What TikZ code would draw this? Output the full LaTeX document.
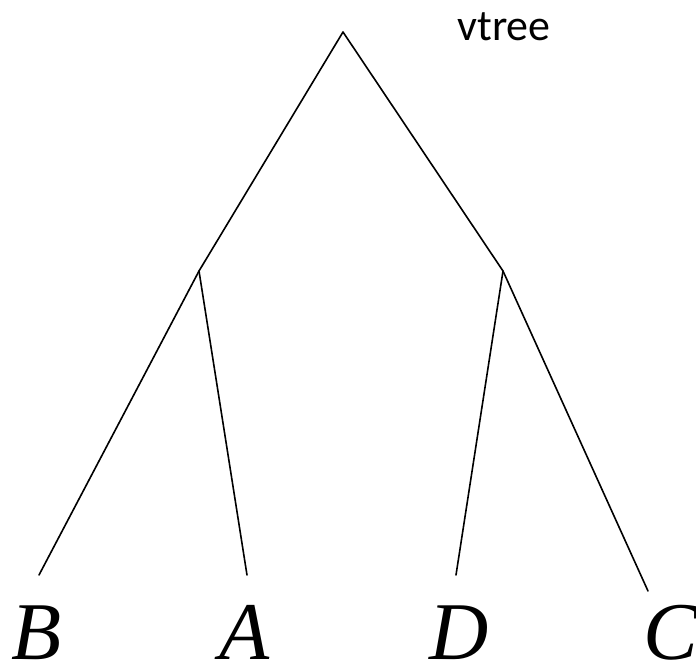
\documentclass[tikz,border=0pt]{standalone}
\usepackage{fontspec}
\setmainfont{Liberation Serif}
\newfontfamily\calib{Carlito}
\begin{document}
\begin{tikzpicture}[x=1pt,y=-1pt,
  edge/.style={line width=1.6pt,line cap=round,line join=round},
  leaf/.style={font=\fontsize{82}{82}\selectfont\itshape,inner sep=0pt,anchor=base},
  lbl/.style={font=\calib\fontsize{44}{44}\selectfont,inner sep=0pt,anchor=base west}]
\useasboundingbox (0,0) rectangle (696,662);
\coordinate (r) at (343,32);
\coordinate (l) at (199,271);
\coordinate (m) at (503,271);
\coordinate (b) at (39,575);
\coordinate (a) at (247,575);
\coordinate (d) at (456,575);
\coordinate (c) at (648,591);
\draw[edge] (b) -- (l) -- (r) -- (m) -- (c);
\draw[edge] (l) -- (a);
\draw[edge] (m) -- (d);
\node[leaf] (tb) at (37,659) {B};
\node[leaf] (ta) at (245,659) {A};
\node[leaf] (td) at (459,659) {D};
\node[leaf] (tc) at (671,659) {C};
\node[lbl] (vt) at (457,40) {vtree};
\end{tikzpicture}
\end{document}
